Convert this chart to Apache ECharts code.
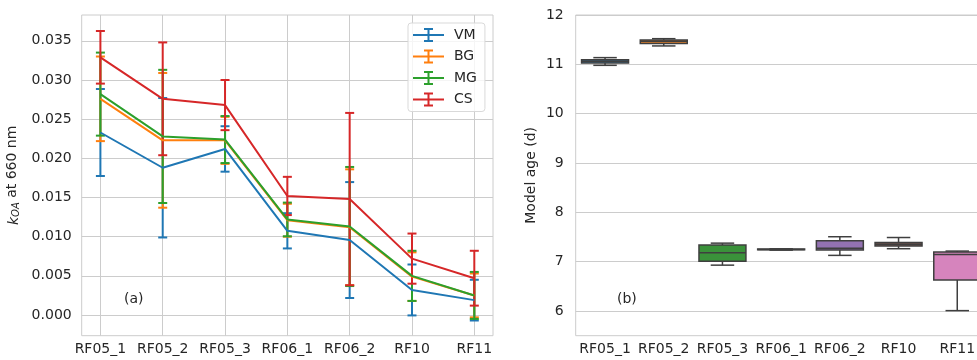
<!DOCTYPE html>
<html>
<head>
<meta charset="utf-8">
<script src="https://cdn.jsdelivr.net/npm/echarts@6/dist/echarts.min.js"></script>
<style>
  html, body { margin: 0; padding: 0; background: #fff; }
  #main { width: 977px; height: 360px; }
</style>
</head>
<body>
<div id="main"></div>
<script>
const categories = ['RF05_1', 'RF05_2', 'RF05_3', 'RF06_1', 'RF06_2', 'RF10', 'RF11'];
const groups = ['VM', 'BG', 'MG', 'CS'];

// panel (a): k_OA at 660 nm, mean and half-width of error bar
const vmMean = [0.0233, 0.0188, 0.0212, 0.01075, 0.00957, 0.0032, 0.0019];
const vmErr  = [0.00555, 0.0089, 0.0029, 0.00225, 0.0074, 0.00325, 0.0026];
const bgMean = [0.0276, 0.0223, 0.0223, 0.0121, 0.0112, 0.0049, 0.0025];
const bgErr  = [0.0054, 0.0086, 0.0030, 0.0021, 0.0074, 0.0031, 0.0028];
const mgMean = [0.0282, 0.0228, 0.0224, 0.0122, 0.0113, 0.0050, 0.0025];
const mgErr  = [0.0053, 0.0085, 0.0030, 0.00215, 0.0076, 0.0032, 0.0030];
const csMean = [0.0329, 0.0276, 0.0268, 0.0152, 0.0148, 0.0072, 0.0047];
const csErr  = [0.00336, 0.0072, 0.0032, 0.00244, 0.0110, 0.0032, 0.0035];
const kTicks = [0, 0.005, 0.010, 0.015, 0.020, 0.025, 0.030, 0.035];

// panel (b): model age (d), [min, q1, median, q3, max]
const ageStats = [
  [10.98, 11.028, 11.063, 11.095, 11.136],
  [11.373, 11.42, 11.468, 11.494, 11.52],
  [6.93, 7.01, 7.18, 7.336, 7.376],
  [7.235, 7.24, 7.248, 7.255, 7.26],
  [7.128, 7.235, 7.27, 7.425, 7.506],
  [7.263, 7.316, 7.356, 7.39, 7.49],
  [6.008, 6.628, 7.148, 7.194, 7.215]
];
const ageTicks = [6, 7, 8, 9, 10, 11, 12];

const lineColors = ['#1f77b4', '#ff7f0e', '#2ca02c', '#d62728'];
const boxColors = ['#3274a1', '#e1812c', '#3a923a', '#c03d3e', '#9372b2', '#845b53', '#d684bd'];
const means = [vmMean, bgMean, mgMean, csMean];
const errs = [vmErr, bgErr, mgErr, csErr];

const FONT = 'DejaVu Sans';
const TXT = '#262626';
const GRID = '#cccccc';

function errorBarItem(color) {
  return function (params, api) {
    const x = api.value(0);
    const lo = api.coord([x, api.value(1)]);
    const hi = api.coord([x, api.value(2)]);
    const h = 4.5;
    const style = { stroke: color, lineWidth: 2 };
    return {
      type: 'group',
      children: [
        { type: 'line', shape: { x1: lo[0], y1: lo[1], x2: hi[0], y2: hi[1] }, style },
        { type: 'line', shape: { x1: lo[0] - h, y1: lo[1], x2: lo[0] + h, y2: lo[1] }, style },
        { type: 'line', shape: { x1: hi[0] - h, y1: hi[1], x2: hi[0] + h, y2: hi[1] }, style }
      ]
    };
  };
}

function boxItem(params, api) {
  const i = api.value(0);
  const w = api.size([1, 0])[0] * 0.8;
  const pMin = api.coord([i, api.value(1)]);
  const pQ1 = api.coord([i, api.value(2)]);
  const pMed = api.coord([i, api.value(3)]);
  const pQ3 = api.coord([i, api.value(4)]);
  const pMax = api.coord([i, api.value(5)]);
  const cx = pMin[0];
  const edge = { stroke: '#3f3f3f', lineWidth: 1.5 };
  return {
    type: 'group',
    children: [
      { type: 'line', shape: { x1: cx, y1: pMin[1], x2: cx, y2: pQ1[1] }, style: edge },
      { type: 'line', shape: { x1: cx, y1: pQ3[1], x2: cx, y2: pMax[1] }, style: edge },
      { type: 'line', shape: { x1: cx - w / 4, y1: pMin[1], x2: cx + w / 4, y2: pMin[1] }, style: edge },
      { type: 'line', shape: { x1: cx - w / 4, y1: pMax[1], x2: cx + w / 4, y2: pMax[1] }, style: edge },
      { type: 'rect', shape: { x: cx - w / 2, y: pQ3[1], width: w, height: pQ1[1] - pQ3[1] },
        style: { fill: boxColors[params.dataIndex], stroke: '#3f3f3f', lineWidth: 1.5 } },
      { type: 'line', shape: { x1: cx - w / 2, y1: pMed[1], x2: cx + w / 2, y2: pMed[1] }, style: edge }
    ]
  };
}

const legendIcon = 'path://M0,6H31V8H0Z M14.5,0H16.5V14H14.5Z M11,0H20V2H11Z M11,12H20V14H11Z';

const series = [];
groups.forEach((g, k) => {
  series.push({
    name: g,
    type: 'line',
    xAxisIndex: 0, yAxisIndex: 0,
    data: means[k].map((v, i) => [i, v]),
    showSymbol: false,
    symbol: 'none',
    lineStyle: { color: lineColors[k], width: 2 },
    itemStyle: { color: lineColors[k] },
    animation: false
  });
  series.push({
    name: g,
    type: 'custom',
    xAxisIndex: 0, yAxisIndex: 0,
    data: means[k].map((v, i) => [i, v - errs[k][i], v + errs[k][i]]),
    renderItem: errorBarItem(lineColors[k]),
    itemStyle: { color: lineColors[k] },
    animation: false
  });
});
series.push({
  type: 'custom',
  xAxisIndex: 1, yAxisIndex: 1,
  data: ageStats.map((s, i) => [i].concat(s)),
  renderItem: boxItem,
  encode: { x: 0, y: [1, 2, 3, 4, 5] },
  animation: false
});

const chart = echarts.init(document.getElementById('main'));
chart.setOption({
  animation: false,
  textStyle: { fontFamily: FONT, color: TXT },
  grid: [
    { left: 81.7, right: 484, top: 15, bottom: 24.3, show: true, borderColor: GRID, borderWidth: 1, outerBoundsMode: 'none' },
    { left: 575.7, right: -9.6, top: 15, bottom: 24.3, show: true, borderColor: GRID, borderWidth: 1, outerBoundsMode: 'none' }
  ],
  legend: {
    data: groups,
    orient: 'vertical',
    left: 408, top: 23,
    padding: [5, 8, 5, 5],
    itemWidth: 31, itemHeight: 14, itemGap: 7.5,
    icon: legendIcon,
    itemStyle: { borderWidth: 0 },
    backgroundColor: 'rgba(255,255,255,0.8)',
    borderColor: '#d9d9d9', borderWidth: 1, borderRadius: 3,
    textStyle: { fontFamily: FONT, fontSize: 14, color: TXT, padding: [0, 0, 0, 5] }
  },
  xAxis: [
    {
      gridIndex: 0, type: 'value', min: -0.3, max: 6.3,
      axisLine: { show: false }, axisTick: { show: false, customValues: categories.map((c, i) => i) },
      axisLabel: { customValues: categories.map((c, i) => i), formatter: v => categories[Math.round(v)],
        fontFamily: FONT, fontSize: 14, color: TXT, margin: 7 },
      splitLine: { show: true, lineStyle: { color: GRID, width: 1 } }
    },
    {
      gridIndex: 1, type: 'category', data: categories, boundaryGap: true,
      axisLine: { show: false }, axisTick: { show: false },
      axisLabel: { fontFamily: FONT, fontSize: 14, color: TXT, margin: 7, interval: 0 },
      splitLine: { show: false }
    }
  ],
  yAxis: [
    {
      gridIndex: 0, type: 'value', min: -0.00264, max: 0.0383,
      axisLine: { show: false }, axisTick: { show: false, customValues: kTicks },
      axisLabel: { customValues: kTicks, formatter: v => v.toFixed(3), fontFamily: FONT, fontSize: 14, color: TXT, margin: 10 },
      splitLine: { show: true, lineStyle: { color: GRID, width: 1 } },
      name: '{k|k}{s|OA} at 660 nm',
      nameLocation: 'middle', nameGap: 60,
      nameTextStyle: {
        fontFamily: FONT, fontSize: 14, color: TXT,
        rich: {
          k: { fontFamily: FONT, fontSize: 14, fontStyle: 'italic', color: TXT, verticalAlign: 'bottom', lineHeight: 18 },
          s: { fontFamily: FONT, fontSize: 10, fontStyle: 'italic', color: TXT, verticalAlign: 'bottom', lineHeight: 12 }
        }
      }
    },
    {
      gridIndex: 1, type: 'value', min: 5.5, max: 12,
      axisLine: { show: false }, axisTick: { show: false, customValues: ageTicks },
      axisLabel: { customValues: ageTicks, fontFamily: FONT, fontSize: 14, color: TXT, margin: 12 },
      splitLine: { show: true, lineStyle: { color: GRID, width: 1 } },
      name: 'Model age (d)',
      nameLocation: 'middle', nameGap: 37,
      nameTextStyle: { fontFamily: FONT, fontSize: 14, color: TXT }
    }
  ],
  graphic: [
    { type: 'text', left: 124, top: 292, style: { text: '(a)', fontFamily: FONT, fontSize: 14, fill: TXT } },
    { type: 'text', left: 617, top: 292, style: { text: '(b)', fontFamily: FONT, fontSize: 14, fill: TXT } }
  ],
  series: series
});
</script>
</body>
</html>
